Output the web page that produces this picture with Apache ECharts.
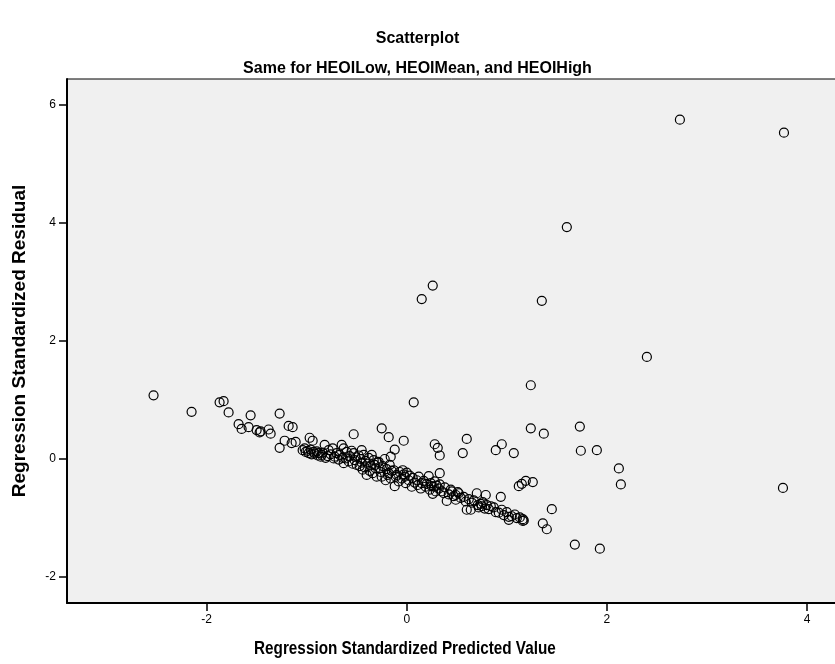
<!DOCTYPE html>
<html>
<head>
<meta charset="utf-8">
<script src="https://cdn.jsdelivr.net/npm/echarts@6/dist/echarts.min.js"></script>
<style>
  html, body { margin: 0; padding: 0; background: #fff; }
  #main { width: 835px; height: 664px; }
</style>
</head>
<body>
<div id="main"></div>
<script>
// Regression standardized predicted value (x) and residual (y)
var predicted = [
  2.73, 3.77, 1.60, 0.26, 0.15, 1.35, 2.40, 1.24, -2.53, 0.07,
  -2.15, -1.87, -1.83, -1.78, -1.56, -1.27, 1.24, 1.37, 1.73, 1.74,
  1.90, 2.12, 2.14, 3.76, 1.68, 1.93, 1.45, 1.36, 1.40, 1.12,
  1.15, 1.19, 1.26, 0.60, 0.56, 0.95, 0.89, 1.07, 0.28, 0.31,
  0.33, 0.33, -0.03, -0.12, -0.16, -0.18, -0.25, -0.53, 0.94,
  -1.68, -1.65, -1.58, -1.50, -1.47, -1.46, -1.38, -1.36, -1.18, -1.14,
  -1.27, -1.22, -1.15, -1.11, -0.97, -0.94,
  -1.04, -1.02, -1.01, -0.99, -0.98, -0.96, -0.95, -0.93, -0.92, -0.90,
  -0.89, -0.88, -0.86, -0.85, -0.84, -0.82, -0.81, -0.79, -0.78, -0.76,
  -0.74, -0.73, -0.72, -0.70, -0.68, -0.67, -0.65, -0.64, -0.63, -0.63,
  -0.61, -0.60, -0.58, -0.57, -0.55, -0.54, -0.53, -0.52, -0.51, -0.50,
  -0.48, -0.47, -0.46, -0.45, -0.45, -0.44, -0.43, -0.42, -0.41, -0.40,
  -0.39, -0.38, -0.37, -0.36, -0.35, -0.34, -0.33, -0.32, -0.31, -0.30,
  -0.29, -0.28, -0.27, -0.26,
  -0.25, -0.24, -0.22, -0.21, -0.20, -0.19, -0.18, -0.17, -0.16, -0.15,
  -0.13, -0.12, -0.11, -0.10, -0.08, -0.07, -0.05, -0.04, -0.03, -0.02,
  -0.01, 0.00,
  0.02, 0.03, 0.05, 0.06, 0.08, 0.10, 0.11, 0.12, 0.14, 0.15,
  0.17, 0.19, 0.20, 0.22, 0.23, 0.24, 0.25, 0.26, 0.27, 0.28,
  0.29, 0.30,
  0.32, 0.33, 0.35, 0.37, 0.38, 0.40, 0.42, 0.44, 0.45, 0.47,
  0.49, 0.49, 0.51, 0.52, 0.54, 0.57, 0.59, 0.60, 0.62,
  0.64, 0.65, 0.67, 0.70, 0.71, 0.72, 0.74, 0.75, 0.76, 0.78,
  0.79, 0.80, 0.82, 0.84, 0.87, 0.89,
  0.92, 0.95, 0.97, 1.00, 1.02, 1.02, 1.05, 1.08, 1.10, 1.13,
  1.16, 1.16, 1.17
];
var residual = [
  5.75, 5.53, 3.93, 2.94, 2.71, 2.68, 1.73, 1.25, 1.08, 0.96,
  0.80, 0.96, 0.98, 0.79, 0.74, 0.77, 0.52, 0.43, 0.55, 0.14,
  0.15, -0.16, -0.43, -0.49, -1.45, -1.52, -0.85, -1.09, -1.19, -0.46,
  -0.42, -0.37, -0.39, 0.34, 0.10, 0.25, 0.15, 0.10, 0.25, 0.19,
  0.06, -0.24, 0.31, 0.16, 0.04, 0.37, 0.52, 0.42, -0.64,
  0.59, 0.51, 0.54, 0.49, 0.45, 0.47, 0.50, 0.43, 0.56, 0.54,
  0.19, 0.31, 0.27, 0.29, 0.36, 0.31,
  0.15, 0.18, 0.12, 0.14, 0.10, 0.16, 0.08, 0.12, 0.09, 0.13,
  0.06, 0.10, 0.04, 0.07, 0.11, 0.24, 0.02, 0.05, 0.15, 0.08,
  0.18, 0.01, 0.04, 0.10, -0.01, 0.07, 0.24, 0.02, 0.18, -0.07,
  0.01, 0.12, -0.04, 0.05, 0.14, -0.08, 0.10, -0.02, 0.03, -0.10,
  0.06, -0.12, 0.00, 0.15, -0.06, -0.18, 0.07, -0.14, -0.03, -0.27,
  -0.08, 0.02, -0.20, -0.11, 0.07, -0.24, -0.02, -0.10, -0.16, -0.30,
  -0.06, -0.05, -0.16, -0.22,
  -0.30, -0.12, 0.00, -0.36, -0.17, -0.27, -0.24, -0.10, -0.33, -0.20,
  -0.19, -0.46, -0.30, -0.27, -0.38, -0.22, -0.33, -0.19, -0.26, -0.30,
  -0.41, -0.23,
  -0.36, -0.28, -0.47, -0.32, -0.40, -0.36, -0.44, -0.30, -0.50, -0.41,
  -0.37, -0.47, -0.42, -0.29, -0.52, -0.41, -0.46, -0.59, -0.47, -0.38,
  -0.55, -0.45,
  -0.50, -0.43, -0.55, -0.58, -0.48, -0.71, -0.60, -0.52, -0.55, -0.63,
  -0.61, -0.69, -0.56, -0.58, -0.66, -0.64, -0.72, -0.86, -0.68,
  -0.86, -0.74, -0.70, -0.58, -0.78, -0.82, -0.76, -0.80, -0.73, -0.84,
  -0.61, -0.78, -0.85, -0.80, -0.82, -0.90,
  -0.91, -0.86, -0.95, -0.90, -0.98, -1.03, -0.97, -0.94, -1.00, -0.99,
  -1.02, -1.05, -1.04
];
var xTicks = [-2, 0, 2, 4];
var yTicks = [-2, 0, 2, 4, 6];

var points = predicted.map(function (x, i) { return [x, residual[i]]; });

var chart = echarts.init(document.getElementById('main'));
var font = 'Liberation Sans, Arial, sans-serif';

var option = {
  backgroundColor: '#fff',
  animation: false,
  title: [
    { text: 'Scatterplot', left: 'center', top: 26,
      textStyle: { fontFamily: font, fontSize: 16, fontWeight: 'bold', color: '#000' } },
    { text: 'Same for HEOILow, HEOIMean, and HEOIHigh', left: 'center', top: 56,
      textStyle: { fontFamily: font, fontSize: 16, fontWeight: 'bold', color: '#000' } }
  ],
  grid: {
    left: 67, top: 79, right: -5, bottom: 61,
    containLabel: false, outerBoundsMode: 'none',
    show: true, backgroundColor: '#f0f0f0', borderColor: '#000', borderWidth: 1
  },
  xAxis: {
    type: 'value', min: -3.395, max: 4.33,
    splitLine: { show: false },
    axisLine: { onZero: false, lineStyle: { color: '#000', width: 2 } },
    axisTick: { customValues: xTicks, length: 8, lineStyle: { color: '#000', width: 1.5 } },
    axisLabel: { customValues: xTicks, margin: 11, color: '#000', fontFamily: font, fontSize: 12 }
  },
  yAxis: {
    type: 'value', min: -2.44, max: 6.44,
    name: 'Regression Standardized Residual',
    nameLocation: 'middle', nameGap: 38,
    nameTextStyle: { fontFamily: font, fontSize: 19, fontWeight: 'bold', color: '#000' },
    splitLine: { show: false },
    axisLine: { onZero: false, lineStyle: { color: '#000', width: 2 } },
    axisTick: { customValues: yTicks, length: 8, lineStyle: { color: '#000', width: 1.5 } },
    axisLabel: { customValues: yTicks, margin: 11, color: '#000', fontFamily: font, fontSize: 12 }
  },
  graphic: [{
    type: 'text', left: 405 - 151, top: 640, scaleX: 0.85,
    style: { text: 'Regression Standardized Predicted Value', fontFamily: font,
      fontSize: 18, fontWeight: 'bold', fill: '#000' }
  }],
  series: [{
    type: 'scatter',
    data: points,
    symbol: 'circle',
    symbolSize: 9,
    itemStyle: { color: 'transparent', borderColor: '#000', borderWidth: 1.2, opacity: 1 }
  }]
};

chart.setOption(option);
</script>
</body>
</html>
